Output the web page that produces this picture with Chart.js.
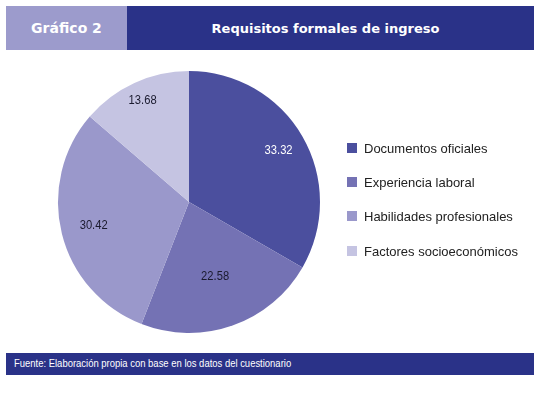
<!DOCTYPE html>
<html>
<head>
<meta charset="utf-8">
<script src="https://cdn.jsdelivr.net/npm/chart.js@4/dist/chart.umd.min.js"></script>
<style>
  html, body { margin: 0; padding: 0; background: #ffffff; }
  #wrap { position: relative; width: 539px; height: 395px; overflow: hidden; }
  #c { position: absolute; left: 0; top: 0; }
  .hdrL { position: absolute; left: 6px; top: 6px; width: 121px; height: 44px; background: #9c9bcc;
          color: #fff; font: bold 14px "DejaVu Sans", sans-serif; display: flex; align-items: center; justify-content: center; }
  .hdrR { position: absolute; left: 127px; top: 6px; width: 407px; height: 44px; background: #2a3288;
          color: #fff; font: bold 13px "DejaVu Sans", sans-serif; display: flex; align-items: center; justify-content: center; padding-right: 10px; box-sizing: border-box; }
  .foot { position: absolute; left: 6px; top: 353px; width: 528px; height: 22px; background: #2a3288;
          color: #fff; font: 11px "Liberation Sans", Arial, sans-serif; box-sizing: border-box; }
  .foot span { position: absolute; left: 8px; top: 4px; white-space: nowrap; transform: scaleX(0.86); transform-origin: left center; }
  .leg { position: absolute; left: 347px; font: 13px "Liberation Sans", Arial, sans-serif; color: #222; display: flex; align-items: center; }
  .leg span.sw { display: inline-block; width: 10px; height: 10px; margin-right: 7px; }
</style>
</head>
<body>
<div id="wrap">
  <canvas id="c" width="539" height="395"></canvas>
  <div class="hdrL" id="hl"></div>
  <div class="hdrR" id="hr"></div>
  <div class="foot"><span id="ft"></span></div>
  <div id="legend"></div>
</div>
<script>
const chartTag = "Gráfico 2";
const chartTitle = "Requisitos formales de ingreso";
const sourceNote = "Fuente: Elaboración propia con base en los datos del cuestionario";
const categories = ["Documentos oficiales", "Experiencia laboral", "Habilidades profesionales", "Factores socioeconómicos"];
const values = [33.32, 22.58, 30.42, 13.68];
const sliceColors = ["#4b4f9e", "#7472b4", "#9a98cb", "#c5c4e2"];
const labelColors = ["#ffffff", "#1a1a2e", "#1a1a2e", "#1a1a2e"];

document.getElementById("hl").textContent = chartTag;
document.getElementById("hr").textContent = chartTitle;
document.getElementById("ft").textContent = sourceNote;

const legendTops = [148, 182, 216, 251];
const lg = document.getElementById("legend");
categories.forEach((c, i) => {
  const d = document.createElement("div");
  d.className = "leg";
  d.style.top = (legendTops[i] - 8) + "px";
  d.style.height = "16px";
  const sw = document.createElement("span");
  sw.className = "sw";
  sw.style.background = sliceColors[i];
  d.appendChild(sw);
  d.appendChild(document.createTextNode(c));
  lg.appendChild(d);
});

const labelRadius = [0.79, 0.6, 0.75, 0.85];
const valueLabels = {
  id: "valueLabels",
  afterDatasetsDraw(chart) {
    const ctx = chart.ctx;
    const meta = chart.getDatasetMeta(0);
    meta.data.forEach((arc, i) => {
      const p = arc.getProps(["x", "y", "startAngle", "endAngle", "outerRadius"], true);
      const mid = (p.startAngle + p.endAngle) / 2;
      const r = p.outerRadius * labelRadius[i];
      const lx = p.x + Math.cos(mid) * r, ly = p.y + Math.sin(mid) * r;
      ctx.save();
      ctx.translate(lx, ly);
      ctx.scale(0.86, 1);
      ctx.font = '13px "Liberation Sans", Arial, sans-serif';
      ctx.textAlign = "center";
      ctx.textBaseline = "middle";
      ctx.fillStyle = labelColors[i];
      ctx.fillText(values[i].toFixed(2), 0, 0);
      ctx.restore();
    });
  }
};

new Chart(document.getElementById("c"), {
  type: "pie",
  data: {
    labels: categories,
    datasets: [{ data: values, backgroundColor: sliceColors, borderWidth: 0 }]
  },
  options: {
    responsive: false,
    animation: false,
    layout: { padding: { left: 58, right: 219, top: 71, bottom: 62 } },
    plugins: { legend: { display: false }, tooltip: { enabled: false } }
  },
  plugins: [valueLabels]
});
</script>
</body>
</html>
